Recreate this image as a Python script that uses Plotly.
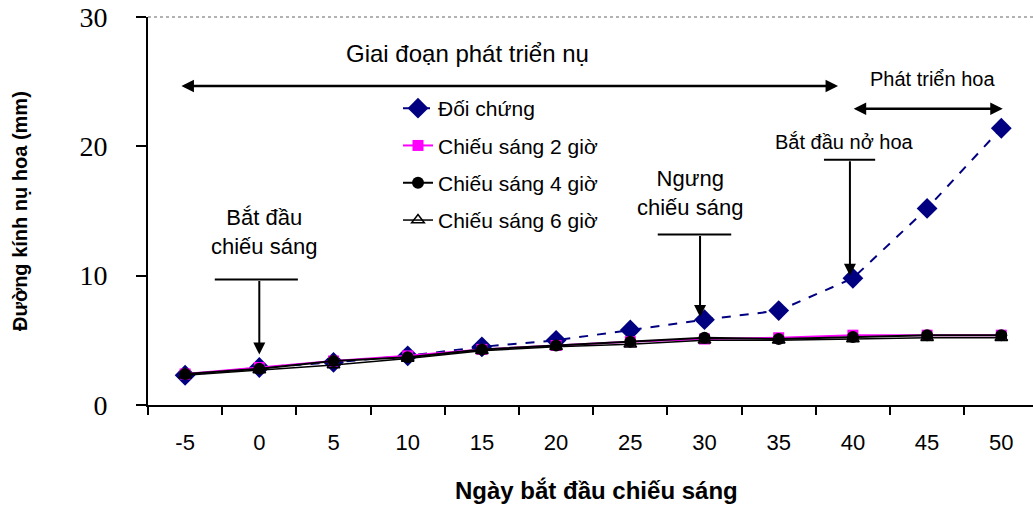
import plotly.graph_objects as go

days = ["-5", "0", "5", "10", "15", "20", "25", "30", "35", "40", "45", "50"]
doi_chung = [2.3, 2.9, 3.3, 3.8, 4.5, 5.0, 5.8, 6.6, 7.3, 9.8, 15.2, 21.4]
cs_2h = [2.4, 2.9, 3.4, 3.8, 4.3, 4.6, 4.9, 5.1, 5.2, 5.4, 5.4, 5.4]
cs_4h = [2.4, 2.8, 3.4, 3.7, 4.3, 4.6, 4.9, 5.2, 5.1, 5.25, 5.4, 5.4]
cs_6h = [2.3, 2.7, 3.1, 3.6, 4.2, 4.5, 4.7, 5.0, 5.0, 5.1, 5.2, 5.2]

series_names = ["Đối chứng", "Chiếu sáng 2 giờ", "Chiếu sáng 4 giờ", "Chiếu sáng 6 giờ"]

SANS = "Liberation Sans, Arial, sans-serif"
SERIF = "Liberation Serif, Times New Roman, serif"

# plot area in page pixels (body margin removed below)
L, T, B, W = 148, 17, 405, 1033
PW = W - L
PH = B - T

fig = go.Figure()
fig.add_trace(go.Scatter(x=days, y=doi_chung, name=series_names[0], mode="lines+markers",
                         line=dict(color="#000080", width=2, dash="dash"),
                         marker=dict(symbol="diamond", size=16, color="#000080"),
                         legendgroup="a", legendrank=1))
fig.add_trace(go.Scatter(x=days, y=cs_2h, name=series_names[1], mode="lines+markers",
                         line=dict(color="#FF00FF", width=2),
                         marker=dict(symbol="square", size=11, color="#FF00FF"),
                         legendgroup="b", legendrank=2))
fig.add_trace(go.Scatter(x=days, y=cs_6h, name=series_names[3], mode="lines+markers",
                         line=dict(color="black", width=1.5),
                         marker=dict(symbol="triangle-up-open", size=11, color="black",
                                     line=dict(width=1.5)),
                         legendgroup="d", legendrank=4))
fig.add_trace(go.Scatter(x=days, y=cs_4h, name=series_names[2], mode="lines+markers",
                         line=dict(color="black", width=2),
                         marker=dict(symbol="circle", size=12, color="black"),
                         legendgroup="c", legendrank=3))

annotations = [
    dict(x=3.80, y=27.2, xref="x", yref="y", text="Giai đoạn phát triển nụ", showarrow=False,
         font=dict(family=SANS, size=24, color="black")),
    dict(x=10.07, y=25.2, xref="x", yref="y", text="Phát triển hoa", showarrow=False,
         font=dict(family=SANS, size=20, color="black")),
    dict(x=8.89, y=20.3, xref="x", yref="y", text="Bắt đầu nở hoa", showarrow=False,
         font=dict(family=SANS, size=20, color="black")),
    dict(x=6.80, y=16.4, xref="x", yref="y", text="Ngưng<br>chiếu sáng", showarrow=False,
         font=dict(family=SANS, size=22, color="black")),
    dict(x=1.07, y=13.4, xref="x", yref="y", text="Bắt đầu<br>chiếu sáng", showarrow=False,
         font=dict(family=SANS, size=22, color="black")),
    # double arrows
    dict(x=8.80, y=24.67, ax=-0.07, ay=24.67, xref="x", yref="y", axref="x", ayref="y",
         text="", showarrow=True, arrowhead=2, arrowside="end+start", arrowwidth=2.5,
         arrowsize=1, arrowcolor="black"),
    dict(x=11.02, y=22.9, ax=8.99, ay=22.9, xref="x", yref="y", axref="x", ayref="y",
         text="", showarrow=True, arrowhead=2, arrowside="end+start", arrowwidth=2.5,
         arrowsize=1, arrowcolor="black"),
    # vertical arrows
    dict(x=8.96, y=10.0, ax=8.96, ay=18.97, xref="x", yref="y", axref="x", ayref="y",
         text="", showarrow=True, arrowhead=2, arrowwidth=2, arrowsize=1.2, arrowcolor="black"),
    dict(x=6.94, y=6.8, ax=6.94, ay=13.18, xref="x", yref="y", axref="x", ayref="y",
         text="", showarrow=True, arrowhead=2, arrowwidth=2, arrowsize=1.2, arrowcolor="black"),
    dict(x=1.0, y=3.9, ax=1.0, ay=9.71, xref="x", yref="y", axref="x", ayref="y",
         text="", showarrow=True, arrowhead=2, arrowwidth=2, arrowsize=1.2, arrowcolor="black"),
    # axis titles
    dict(x=(20 - L) / PW, y=0.5, xref="paper", yref="paper", xanchor="center",
         yanchor="middle", text="<b>Đường kính nụ hoa (mm)</b>",
         textangle=-90, showarrow=False, font=dict(family=SANS, size=20, color="black")),
    dict(x=(596 - L) / PW, y=-(490 - B) / PH, xref="paper", yref="paper",
         xanchor="center", yanchor="middle",
         text="<b>Ngày bắt đầu chiếu sáng</b>", showarrow=False,
         font=dict(family=SANS, size=24, color="black")),
]

shapes = [
    dict(type="line", xref="x", yref="y", x0=8.61, x1=9.30, y0=18.97, y1=18.97,
         line=dict(color="black", width=2)),
    dict(type="line", xref="x", yref="y", x0=6.37, x1=7.36, y0=13.18, y1=13.18,
         line=dict(color="black", width=2)),
    dict(type="line", xref="x", yref="y", x0=0.40, x1=1.52, y0=9.71, y1=9.71,
         line=dict(color="black", width=2)),
    dict(type="line", xref="paper", yref="paper", x0=0, x1=1, y0=1, y1=1,
         line=dict(color="#999999", width=1.5, dash="dot")),
]

fig.update_layout(
    width=1033, height=506,
    margin=dict(l=L, r=0, t=T, b=506 - B),
    paper_bgcolor="white", plot_bgcolor="white",
    showlegend=True,
    legend=dict(x=(398 - L) / PW, y=(B - 88) / PH, xanchor="left", yanchor="top",
                font=dict(family=SANS, size=21, color="black"),
                bgcolor="rgba(0,0,0,0)", tracegroupgap=7, traceorder="grouped"),
    annotations=annotations,
    shapes=shapes,
    xaxis=dict(type="category", range=[-0.5, -0.5 + PW / 74.2], tickson="boundaries",
               ticks="outside", ticklen=8, tickwidth=2, tickcolor="black",
               showline=True, linecolor="black", linewidth=2, showgrid=False,
               zeroline=False, ticklabelstandoff=17, automargin=False,
               tickfont=dict(family=SANS, size=22, color="black")),
    yaxis=dict(range=[0, 30], tickvals=[0, 10, 20, 30], ticks="outside", ticklen=10,
               tickwidth=2, tickcolor="black", showline=True, linecolor="black",
               linewidth=2, showgrid=False, zeroline=False, ticklabelstandoff=23,
               ticklabeloverflow="allow", automargin=False,
               tickfont=dict(family=SERIF, size=28, color="black")),
)

fig.write_html("out.html", config={"displayModeBar": False},
               post_script="document.body.style.margin='0';")
